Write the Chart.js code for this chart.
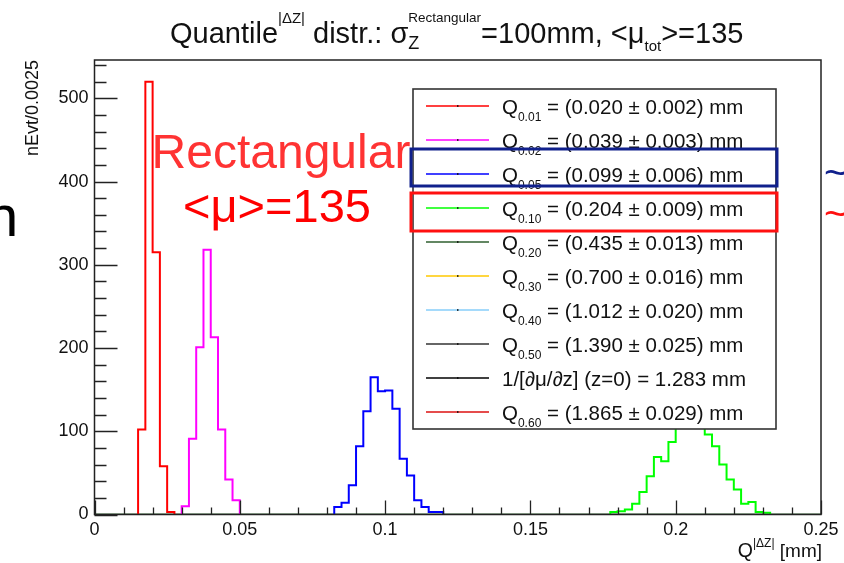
<!DOCTYPE html>
<html><head><meta charset="utf-8">
<script src="https://cdn.jsdelivr.net/npm/chart.js@4.4.1/dist/chart.umd.min.js"></script>
<style>html,body{margin:0;padding:0;background:#fff;overflow:hidden}canvas{display:block}</style>
</head><body>
<canvas id="c" width="844" height="563"></canvas>
<script>
// ---------- data ----------
const binWidth = 0.0025;
const q01Start = 0.015;
const q01Counts = [102, 520, 315, 58, 3];
const q02Start = 0.03;
const q02Counts = [10, 91, 201, 318, 213, 102, 42, 17];
const q05Start = 0.0825;
const q05Counts = [9, 14, 35, 82, 124, 165, 148, 149, 127, 67, 47, 17, 9, 3, 3];
const q10Start = 0.1775;
const q10Counts = [3, 4, 6, 13, 27, 46, 69, 64, 87, 106, 116, 112, 110, 96, 82, 60, 42, 30, 13, 15, 3, 2];

const xMin = 0, xMax = 0.25, yMin = 0, yMax = 546;
const xTickValues = [0, 0.05, 0.1, 0.15, 0.2, 0.25];
const xTickLabels = ['0', '0.05', '0.1', '0.15', '0.2', '0.25'];
const xMinorStep = 0.01;
const yTickValues = [0, 100, 200, 300, 400, 500];
const yTickLabels = ['0', '100', '200', '300', '400', '500'];
const yMinorStep = 20;

const legendSubscripts = ['0.01', '0.02', '0.05', '0.10', '0.20', '0.30', '0.40', '0.50', null, '0.60'];
const legendTexts = [
  '= (0.020 \u00b1 0.002) mm',
  '= (0.039 \u00b1 0.003) mm',
  '= (0.099 \u00b1 0.006) mm',
  '= (0.204 \u00b1 0.009) mm',
  '= (0.435 \u00b1 0.013) mm',
  '= (0.700 \u00b1 0.016) mm',
  '= (1.012 \u00b1 0.020) mm',
  '= (1.390 \u00b1 0.025) mm',
  '1/[\u2202\u03bc/\u2202z] (z=0) = 1.283 mm',
  '= (1.865 \u00b1 0.029) mm'
];
const legendColors = ['#ff0000', '#ff00ff', '#0000ff', '#00ff00', '#2f5f2f', '#ffc800', '#87cefa', '#333333', '#000000', '#dd1010'];

// ---------- helpers ----------
const FF = '"Liberation Sans", Arial, Helvetica, sans-serif';
function histPoints(start, counts) {
  const pts = [{x: start, y: 0}];
  counts.forEach((c, i) => pts.push({x: start + i * binWidth, y: c}));
  pts.push({x: start + counts.length * binWidth, y: 0});
  return pts;
}
function drawRich(ctx, x, baseline, segs, color) {
  ctx.fillStyle = color;
  ctx.textBaseline = 'alphabetic';
  ctx.textAlign = 'left';
  for (const s of segs) {
    if (s.stack) {
      ctx.font = `${s.subSize}px ${FF}`;
      const w1 = ctx.measureText(s.sub).width;
      ctx.fillText(s.sub, x, baseline + s.subDy);
      ctx.font = `${s.supSize}px ${FF}`;
      const w2 = ctx.measureText(s.sup).width;
      ctx.fillText(s.sup, x, baseline + s.supDy);
      x += Math.max(w1, w2);
    } else {
      ctx.font = `${s.size}px ${FF}`;
      ctx.fillText(s.t, x, baseline + (s.dy || 0));
      x += ctx.measureText(s.t).width;
    }
  }
  return x;
}
function richWidth(ctx, segs) {
  let w = 0;
  for (const s of segs) {
    if (s.stack) {
      ctx.font = `${s.subSize}px ${FF}`; const a = ctx.measureText(s.sub).width;
      ctx.font = `${s.supSize}px ${FF}`; const b = ctx.measureText(s.sup).width;
      w += Math.max(a, b);
    } else { ctx.font = `${s.size}px ${FF}`; w += ctx.measureText(s.t).width; }
  }
  return w;
}

const titleSegs = [
  {t: 'Quantile', size: 29},
  {t: '|\u0394Z|', size: 15, dy: -20},
  {t: ' distr.: \u03c3', size: 29},
  {stack: true, sub: 'Z', subSize: 18, subDy: 6, sup: 'Rectangular', supSize: 13.5, supDy: -21},
  {t: '=100mm, <\u03bc', size: 29},
  {t: 'tot', size: 15, dy: 8},
  {t: '>=135', size: 29}
];
const xTitleSegs = [
  {t: 'Q', size: 19.5},
  {t: '|\u0394Z|', size: 12, dy: -10},
  {t: ' [mm]', size: 19}
];

const decor = {
  id: 'decor',
  afterDraw(chart) {
    const {ctx, chartArea: a, scales: {x, y}} = chart;
    ctx.save();
    // frame
    ctx.strokeStyle = '#222';
    ctx.lineWidth = 1.5;
    ctx.strokeRect(a.left, a.top, a.right - a.left, a.bottom - a.top);
    // y ticks (inside)
    ctx.lineWidth = 1.3;
    ctx.beginPath();
    for (let v = yMin; v <= yMax + 1e-9; v += yMinorStep) {
      const py = Math.round(y.getPixelForValue(v)) + 0.5;
      const major = yTickValues.includes(v);
      ctx.moveTo(a.left, py); ctx.lineTo(a.left + (major ? 23 : 12), py);
    }
    // x ticks (inside)
    for (let i = 0; i <= Math.round((xMax - xMin) / xMinorStep); i++) {
      const v = xMin + i * xMinorStep;
      const px = Math.round(x.getPixelForValue(v)) + 0.5;
      const major = i % 5 === 0;
      ctx.moveTo(px, a.bottom); ctx.lineTo(px, a.bottom - (major ? 14 : 7));
    }
    ctx.stroke();

    // legend box
    const L = {l: 413, t: 89, r: 776, b: 429};
    ctx.fillStyle = '#fff';
    ctx.fillRect(L.l, L.t, L.r - L.l, L.b - L.t);
    ctx.strokeStyle = '#333';
    ctx.lineWidth = 1.6;
    ctx.strokeRect(L.l, L.t, L.r - L.l, L.b - L.t);
    const rowH = (L.b - L.t) / legendTexts.length;
    legendTexts.forEach((txt, i) => {
      const cy = L.t + rowH * (i + 0.5);
      ctx.strokeStyle = legendColors[i];
      ctx.lineWidth = 1.5;
      ctx.beginPath(); ctx.moveTo(426, cy); ctx.lineTo(489, cy); ctx.stroke();
      ctx.fillStyle = '#000';
      ctx.fillRect(457, cy - 0.75, 1.5, 1.5);
      const segs = legendSubscripts[i] === null
        ? [{t: txt, size: 20.5}]
        : [{t: 'Q', size: 20.5}, {t: legendSubscripts[i], size: 12, dy: 7}, {t: ' ' + txt, size: 20.5}];
      drawRich(ctx, 502, cy + 7.5, segs, '#111');
    });

    // slide overlay boxes
    ctx.lineWidth = 3;
    ctx.strokeStyle = '#10208c';
    ctx.strokeRect(411, 149, 366, 37);
    ctx.strokeStyle = '#ff1010';
    ctx.strokeRect(411, 193, 366, 38);

    // annotations
    ctx.textBaseline = 'alphabetic';
    ctx.textAlign = 'center';
    ctx.fillStyle = '#ff3333';
    ctx.font = `48px ${FF}`;
    ctx.fillText('Rectangular', 281, 168);
    ctx.fillStyle = '#ff0000';
    ctx.font = `47px ${FF}`;
    ctx.fillText('<\u03bc>=135', 277, 222);
    ctx.textAlign = 'left';
    ctx.fillStyle = '#000';
    ctx.font = `58px ${FF}`;
    ctx.fillText('n', -14, 236);
    ctx.font = `40px ${FF}`;
    ctx.fillStyle = '#10208c';
    ctx.fillText('~', 824, 186);
    ctx.fillStyle = '#ff1010';
    ctx.fillText('~', 824, 227);

    // title
    drawRich(ctx, 170, 43, titleSegs, '#111');

    // x axis title (right aligned)
    const xw = richWidth(ctx, xTitleSegs);
    drawRich(ctx, a.right - xw + 1, 557, xTitleSegs, '#111');

    // y axis title (rotated, right aligned at frame top)
    ctx.save();
    ctx.translate(38, a.top);
    ctx.rotate(-Math.PI / 2);
    ctx.textAlign = 'right';
    ctx.textBaseline = 'alphabetic';
    ctx.font = `18px ${FF}`;
    ctx.fillStyle = '#111';
    ctx.fillText('nEvt/0.0025', 0, 0);
    ctx.restore();

    ctx.restore();
  }
};

const lineDs = (label, pts, color) => ({
  label, data: pts, borderColor: color, borderWidth: 2, pointRadius: 0,
  stepped: 'before', fill: false, tension: 0, borderJoinStyle: 'miter'
});

new Chart(document.getElementById('c'), {
  type: 'line',
  data: {
    datasets: [
      lineDs('Q0.01', histPoints(q01Start, q01Counts), '#ff0000'),
      lineDs('Q0.02', histPoints(q02Start, q02Counts), '#ff00ff'),
      lineDs('Q0.05', histPoints(q05Start, q05Counts), '#0000ff'),
      lineDs('Q0.10', histPoints(q10Start, q10Counts), '#00ff00'),
      lineDs('Q0.20', [{x: xMin, y: 0}, {x: xMax, y: 0}], '#3a6a3a')
    ]
  },
  options: {
    responsive: false,
    animation: false,
    devicePixelRatio: 1,
    layout: {padding: {left: 0, right: 23, top: 60, bottom: 0}},
    plugins: {legend: {display: false}, title: {display: false}, tooltip: {enabled: false}},
    scales: {
      x: {
        type: 'linear', min: xMin, max: xMax,
        afterBuildTicks: s => { s.ticks = xTickValues.map(v => ({value: v})); },
        afterFit: s => { s.height = 48.5; },
        grid: {display: false, drawTicks: false},
        border: {display: false},
        ticks: {
          font: {family: FF, size: 18}, color: '#111', padding: 5,
          maxRotation: 0, autoSkip: false,
          callback: (v, i) => xTickLabels[i]
        }
      },
      y: {
        type: 'linear', min: yMin, max: yMax,
        afterBuildTicks: s => { s.ticks = yTickValues.map(v => ({value: v})); },
        afterFit: s => { s.width = 94.5; },
        grid: {display: false, drawTicks: false},
        border: {display: false},
        ticks: {
          font: {family: FF, size: 18}, color: '#111', padding: 6,
          autoSkip: false,
          callback: (v, i) => yTickLabels[i]
        }
      }
    }
  },
  plugins: [decor]
});
</script>
</body></html>
